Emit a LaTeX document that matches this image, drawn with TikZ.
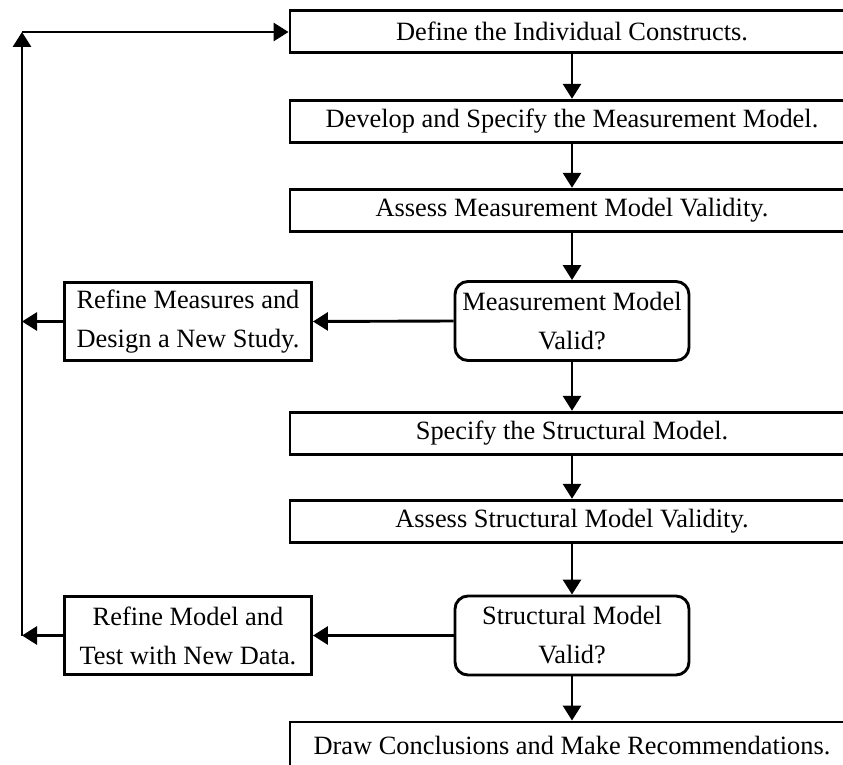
\documentclass[tikz,border=0pt]{standalone}
\usepackage{fontspec}
\setmainfont{Liberation Serif}
\usetikzlibrary{arrows.meta}
\begin{document}
\begin{tikzpicture}[x=1pt,y=-1pt,
  txt/.style={font=\fontsize{26.4}{39}\selectfont},
  stepbox/.style={txt, draw, line width=2.9pt, inner sep=0pt,
    minimum width=564pt, minimum height=42.5pt},
  endbox/.style={stepbox, minimum height=48pt},
  decision/.style={txt, draw, line width=2.9pt, rounded corners=13pt,
    align=center, inner sep=0pt, minimum width=234pt, minimum height=79pt},
  sidebox/.style={txt, draw, line width=2.9pt, align=center, inner sep=0pt,
    minimum width=247pt, minimum height=78pt},
  arr/.style={line width=2.9pt, -{Triangle[length=15pt,width=18pt]}}]

\path[use as bounding box, clip] (0,0) rectangle (843,765);
\fill[white] (0,0) rectangle (843,765);

% main column
\node[stepbox] (c1) at (572,31.5) {Define the Individual Constructs.};
\node[stepbox] (c2) at (572,121.5) {Develop and Specify the Measurement Model.};
\node[stepbox] (c3) at (572,210.5) {Assess Measurement Model Validity.};
\node[decision] (r1) at (572,321) {Measurement Model\\Valid?};
\node[stepbox] (s1) at (572,433.5) {Specify the Structural Model.};
\node[stepbox] (s2) at (572,521.5) {Assess Structural Model Validity.};
\node[decision] (r2) at (572,635.5) {Structural Model\\Valid?};
\node[endbox] (fin) at (572,746) {Draw Conclusions and Make Recommendations.};

% refinement boxes on the left
\node[sidebox] (m1) at (188,321.5) {Refine Measures and\\Design a New Study.};
\node[sidebox] (m2) at (188,635.5) {Refine Model and\\Test with New Data.};

% feedback line corners
\coordinate (tl) at (22,32);
\coordinate (bl) at (22,635.5);

% downward flow
\draw[arr] (c1.south) -- (c2.north);
\draw[arr] (c2.south) -- (c3.north);
\draw[arr] (c3.south) -- (r1.north);
\draw[arr] (r1.south) -- (s1.north);
\draw[arr] (s1.south) -- (s2.north);
\draw[arr] (s2.south) -- (r2.north);
\draw[arr] (r2.south) -- (fin.north);

% "not valid" branches
\draw[arr] (r1.west) -- (m1.east);
\draw[arr] (r2.west) -- (m2.east);
\draw[arr] (m1.west) -- (m1.west -| tl);
\draw[arr] (m2.west) -- (bl);

% feedback loop back to the start
\draw[arr] (bl) -- (tl);
\draw[arr] (tl) -- (tl -| c1.west);
\end{tikzpicture}
\end{document}
